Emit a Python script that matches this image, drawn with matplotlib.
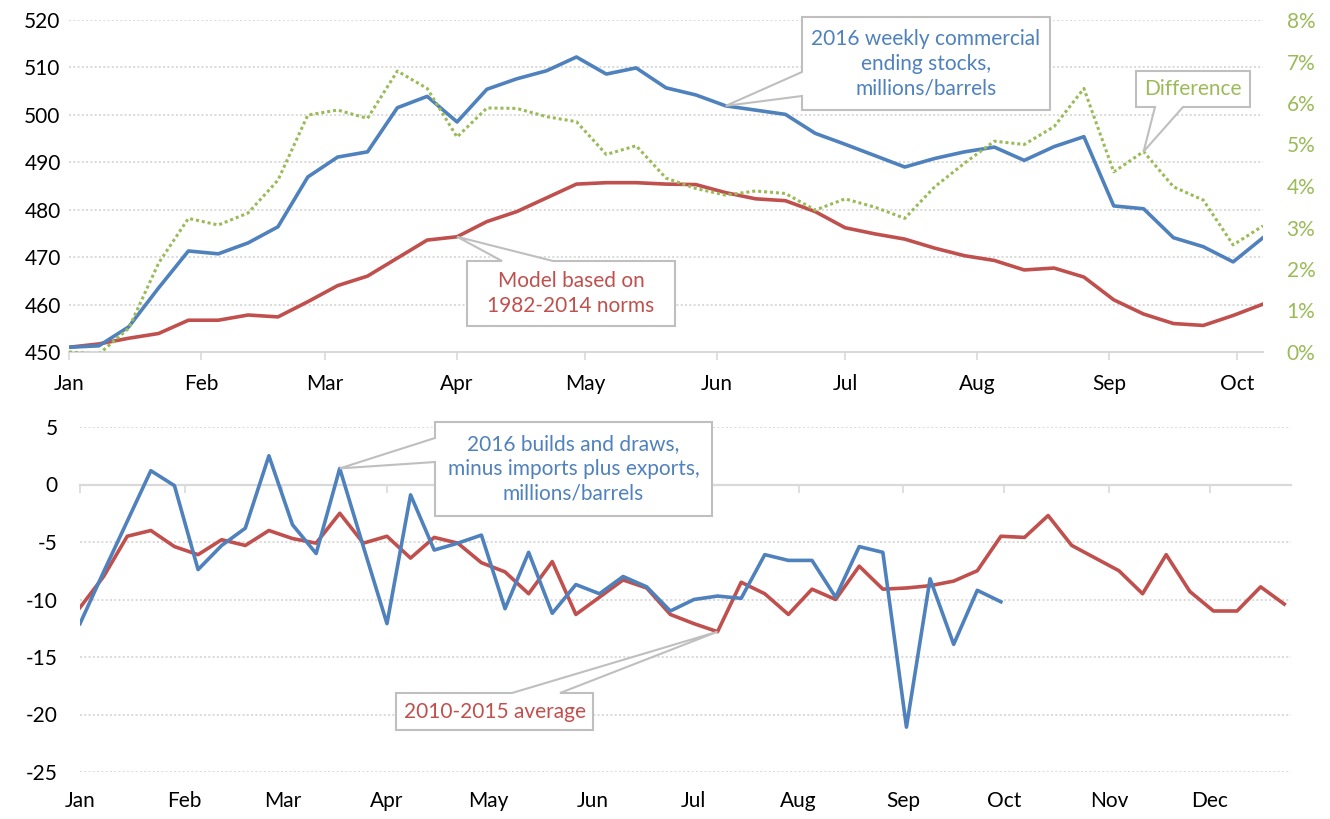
import numpy as np
import matplotlib
matplotlib.use("Agg")
import matplotlib.pyplot as plt
from matplotlib.patches import Polygon
from matplotlib.transforms import IdentityTransform
from matplotlib.ticker import PercentFormatter

plt.rcParams["font.family"] = ["Lato", "DejaVu Sans"]
plt.rcParams["axes.unicode_minus"] = False

W, H = 1330, 819

blue = "#4f81bd"
red = "#c0504d"
green = "#9bbb59"
grid_c = "#d9d9d9"
edge_c = "#bfbfbf"

month_names = ["Jan", "Feb", "Mar", "Apr", "May", "Jun",
               "Jul", "Aug", "Sep", "Oct", "Nov", "Dec"]
month_days = [0, 31, 60, 91, 121, 152, 182, 213, 244, 274, 305, 335]

# weekly commercial ending stocks, millions of barrels
stocks_2016 = [451.0, 451.3, 455.3, 463.5, 471.3, 470.7, 473.0, 476.4, 486.9, 491.1,
               492.2, 501.5, 503.9, 498.5, 505.4, 507.6, 509.3, 512.2, 508.6, 509.9,
               505.7, 504.2, 501.9, 501.0, 500.1, 496.1, 493.8, 491.4, 489.0, 490.8,
               492.2, 493.2, 490.4, 493.3, 495.4, 480.8, 480.2, 474.1, 472.2, 469.0,
               474.1]
stocks_model = [451.0, 451.7, 452.9, 453.9, 456.7, 456.7, 457.8, 457.4, 460.6, 464.0,
                466.0, 469.8, 473.6, 474.3, 477.5, 479.6, 482.5, 485.4, 485.7, 485.7,
                485.4, 485.3, 483.6, 482.3, 481.9, 479.6, 476.2, 474.9, 473.8, 471.9,
                470.3, 469.3, 467.3, 467.7, 465.8, 461.0, 458.0, 456.0, 455.6, 457.7,
                460.1]
# difference, percent
stocks_diff = [0.0, -0.05, 0.57, 2.14, 3.22, 3.06, 3.35, 4.14, 5.71, 5.83,
               5.63, 6.77, 6.35, 5.18, 5.88, 5.87, 5.67, 5.55, 4.76, 4.97,
               4.19, 3.94, 3.78, 3.88, 3.82, 3.42, 3.69, 3.49, 3.22, 3.98,
               4.55, 5.08, 5.0, 5.43, 6.35, 4.34, 4.83, 3.98, 3.66, 2.58,
               3.04]

# builds and draws minus imports plus exports
flows_2016 = [-12.1, -7.6, -3.2, 1.2, -0.1, -7.4, -5.3, -3.8, 2.5, -3.5,
              -6.0, 1.4, -5.4, -12.1, -0.9, -5.7, -5.1, -4.4, -10.8, -5.9,
              -11.2, -8.7, -9.5, -8.0, -8.9, -11.0, -10.0, -9.7, -9.9, -6.1,
              -6.6, -6.6, -9.8, -5.4, -5.9, -21.1, -8.2, -13.9, -9.2, -10.2]
flows_avg = [-10.7, -8.0, -4.5, -4.0, -5.4, -6.1, -4.8, -5.3, -4.0, -4.7,
             -5.1, -2.5, -5.1, -4.5, -6.4, -4.6, -5.1, -6.8, -7.6, -9.5,
             -6.7, -11.3, -9.8, -8.3, -9.0, -11.3, -12.1, -12.8, -8.5, -9.5,
             -11.3, -9.1, -10.0, -7.1, -9.1, -9.0, -8.8, -8.4, -7.5, -4.5,
             -4.6, -2.7, -5.3, -6.4, -7.5, -9.5, -6.1, -9.3, -11.0, -11.0,
             -8.9, -10.4]

days_top = np.arange(len(stocks_2016)) * 7
days_flow = np.arange(len(flows_2016)) * 7
days_avg = np.arange(len(flows_avg)) * 7

FS = 15
dots = (0, (1, 1.2))

fig = plt.figure(figsize=(W / 100, H / 100), dpi=100)

# ---------- top panel ----------
ax1 = fig.add_axes([69 / W, 1 - 352 / H, (1263 - 69) / W, (352 - 20) / H])
ax1.plot(days_top, stocks_model, color=red, lw=2.6, zorder=3)
ax1.plot(days_top, stocks_2016, color=blue, lw=2.6, zorder=4)
ax1.set_xlim(0, 280)
ax1.set_ylim(450, 520)
ax1.set_yticks(np.arange(450, 521, 10))
for v in range(460, 521, 10):
    ax1.axhline(v, color=grid_c, lw=1.4, ls=dots, zorder=1)
ax1.set_xticks(month_days[:10])
ax1.set_xticklabels(month_names[:10])
ax1.tick_params(axis="x", length=6, width=1.2, color=grid_c, pad=10, labelsize=FS)
ax1.tick_params(axis="y", length=0, pad=6, labelsize=FS)
for s in ["top", "left", "right"]:
    ax1.spines[s].set_visible(False)
ax1.spines["bottom"].set_color(grid_c)
ax1.spines["bottom"].set_linewidth(1.5)

ax1r = ax1.twinx()
ax1r.plot(days_top, stocks_diff, color=green, lw=2.2, ls=(0, (1, 0.95)), zorder=3)
ax1r.set_ylim(0, 8)
ax1r.set_yticks(np.arange(0, 9, 1))
ax1r.yaxis.set_major_formatter(PercentFormatter(decimals=0))
ax1r.tick_params(axis="y", length=0, pad=17, labelsize=FS, labelcolor=green)
for s in ax1r.spines.values():
    s.set_visible(False)

# ---------- bottom panel ----------
ax2 = fig.add_axes([80 / W, 1 - 772 / H, (1291 - 80) / W, (772 - 427) / H])
ax2.plot(days_avg, flows_avg, color=red, lw=2.6, zorder=3)
ax2.plot(days_flow, flows_2016, color=blue, lw=2.6, zorder=4)
ax2.set_xlim(0, 359)
ax2.set_ylim(-25, 5)
ax2.set_yticks(np.arange(-25, 6, 5))
for v in [5, -5, -10, -15, -20, -25]:
    ax2.axhline(v, color=grid_c, lw=1.4, ls=dots, zorder=1)
ax2.spines["bottom"].set_position(("data", 0))
ax2.spines["bottom"].set_color(grid_c)
ax2.spines["bottom"].set_linewidth(1.6)
for s in ["top", "left", "right"]:
    ax2.spines[s].set_visible(False)
ax2.set_xticks(month_days)
ax2.set_xticklabels([])
ax2.tick_params(axis="x", length=6, width=1.2, color=grid_c)
ax2.tick_params(axis="y", length=0, pad=16, labelsize=FS)
for d, name in zip(month_days, month_names):
    ax2.text(d, -0.055, name, transform=ax2.get_xaxis_transform(),
             ha="center", va="top", fontsize=FS)


# ---------- callouts ----------
def callout(ax, tip, box, side, a, b, text, color):
    left, top, right, bottom = box
    tx, ty = ax.transData.transform(tip)
    ty = H - ty
    pts = [(left, top)]
    if side == "top":
        pts += [(a, top), (tx, ty), (b, top)]
    pts += [(right, top), (right, bottom)]
    if side == "bottom":
        pts += [(b, bottom), (tx, ty), (a, bottom)]
    pts += [(left, bottom)]
    if side == "left":
        pts += [(left, b), (tx, ty), (left, a)]
    verts = [(x, H - y) for x, y in pts]
    fig.add_artist(Polygon(verts, closed=True, transform=IdentityTransform(),
                           facecolor="white", edgecolor=edge_c, lw=1.5, zorder=5))
    fig.text((left + right) / 2 / W, 1 - (top + bottom) / 2 / H, text,
             color=color, ha="center", va="center", fontsize=FS,
             linespacing=1.3, zorder=6)


callout(ax1, (days_top[22], stocks_2016[22]), (802, 17, 1050, 110), "left", 72, 96,
        "2016 weekly commercial\nending stocks,\nmillions/barrels", blue)
callout(ax1r, (days_top[36], stocks_diff[36]), (1136, 71, 1250, 107), "bottom", 1155, 1183,
        "Difference", green)
callout(ax1, (days_top[13], stocks_model[13]), (467, 261, 675, 326), "top", 502, 553,
        "Model based on\n1982-2014 norms", red)
callout(ax2, (days_flow[11], flows_2016[11]), (435, 422, 712, 516), "left", 438, 462,
        "2016 builds and draws,\nminus imports plus exports,\nmillions/barrels", blue)
callout(ax2, (days_avg[27], flows_avg[27]), (396, 693, 593, 730), "top", 512, 560,
        "2010-2015 average", red)

fig.savefig("out.png", dpi=100)
